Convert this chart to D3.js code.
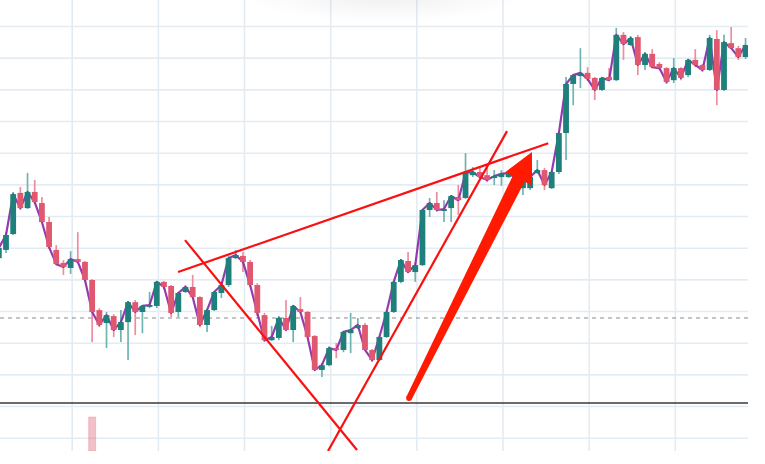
<!DOCTYPE html>
<html><head><meta charset="utf-8">
<script src="https://cdn.jsdelivr.net/npm/d3@7"></script>
<style>html,body{margin:0;padding:0;background:#fff;overflow:hidden}</style>
</head><body>
<script>
// ---- data (candle index -1 .. 103) ----
const firstIndex = -1;
const open = [
 56.7,59.3,64.3,77.3,72.5,77.6,74.1,68.1,59.3,55.2,
 53.6,56.4,55.5,49.8,40.3,36.2,38.4,34.0,36.5,42.8,
 39.7,41.3,41.6,49.2,47.9,39.7,46.0,47.6,44.4,35.6,
 40.3,45.7,48.2,56.7,57.4,55.5,48.2,38.7,30.8,31.5,
 37.8,34.0,40.6,39.7,32.1,21.4,22.9,28.3,27.7,33.0,
 34.6,35.6,27.7,24.5,31.8,39.7,49.2,55.8,52.3,54.5,
 71.9,74.1,71.6,72.5,76.0,75.7,82.9,83.9,82.9,82.0,
 82.3,82.3,82.9,78.8,78.8,83.6,84.5,78.8,83.9,96.2,
 111.7,114.2,115.2,113.6,109.8,113.9,112.9,127.2,124.0,126.5,
 117.7,121.2,118.0,116.7,112.9,116.7,114.5,119.3,117.7,116.1,
 125.9,109.8,124.6,123.0,120.2];
const high = [
 60.8,64.9,77.6,79.2,83.6,81.4,76.0,69.7,60.8,56.1,
 58.9,64.9,55.8,50.1,40.9,39.7,39.0,40.3,43.2,43.5,
 41.9,46.0,49.5,49.5,48.2,46.0,48.2,51.4,44.7,40.6,
 46.3,49.2,57.4,59.3,58.6,56.1,48.8,39.4,35.3,38.4,
 43.5,41.9,44.4,40.0,32.4,23.6,28.9,29.9,33.7,39.4,
 37.8,36.2,28.0,32.1,40.0,49.5,56.4,58.6,55.2,72.2,
 75.7,77.6,75.0,76.6,79.8,89.9,85.5,85.2,86.1,84.5,
 84.5,84.2,85.2,82.3,82.9,87.7,85.2,84.2,96.5,113.9,
 114.8,123.0,117.0,113.9,113.9,116.7,129.4,128.1,126.8,127.2,
 121.8,122.7,118.6,117.0,119.9,117.0,119.6,122.7,118.0,127.2,
 128.7,127.2,129.7,123.7,126.2];
const low = [
 55.5,58.3,64.0,71.9,72.2,73.8,67.8,59.6,54.5,51.4,
 51.7,55.2,49.2,30.2,34.9,28.3,31.8,30.2,24.5,32.4,
 33.0,40.9,40.9,46.9,38.1,38.1,45.7,44.1,34.9,33.4,
 40.0,44.1,47.6,56.4,52.3,47.6,38.4,30.2,30.5,30.8,
 33.7,30.2,39.4,31.5,21.0,19.2,22.6,25.1,27.0,26.7,
 34.3,27.4,23.9,24.2,31.5,39.4,48.8,52.0,49.2,54.2,
 69.7,71.3,68.1,68.1,70.3,75.4,82.3,82.0,80.7,79.8,
 79.5,82.0,79.8,76.6,78.2,83.3,78.2,78.5,83.3,87.7,
 105.0,110.4,112.6,106.6,109.5,112.6,112.6,119.3,123.7,114.5,
 116.1,116.7,116.1,111.7,112.0,112.9,113.9,117.0,115.5,115.8,
 105.0,109.5,122.7,119.3,119.6];
const close = [
 59.9,64.0,76.9,72.5,77.6,74.4,68.1,60.2,54.8,53.9,
 56.4,55.5,49.8,39.7,35.6,38.7,34.0,36.5,42.8,39.7,
 41.6,41.9,49.2,47.6,39.4,45.7,47.6,44.4,35.6,40.3,
 46.0,48.2,56.7,57.7,55.5,48.2,39.4,30.8,31.8,37.8,
 34.0,41.6,39.7,31.8,21.4,22.9,28.3,27.7,33.4,34.0,
 35.6,27.7,24.5,31.8,39.7,49.2,56.1,52.3,54.5,71.9,
 74.1,71.9,72.2,76.3,75.0,83.6,83.9,82.3,81.4,82.6,
 83.3,83.6,82.0,82.0,82.3,84.5,79.8,83.9,96.2,111.7,
 114.5,115.2,113.3,109.8,113.6,112.9,127.2,124.3,126.2,117.7,
 121.2,117.0,116.7,112.3,116.7,113.6,119.3,117.7,116.1,126.2,
 109.8,124.9,123.0,120.2,124.0];
const volIndex = [12];
const volValue = [1];
const priceTicks = [0,10,20,30,40,50,60,70,80,90,100,110,120,130];
const timeTicks = [9.15,21.15,33.15,45.15,57.15,69.15,81.15,93.15];
const dashedPrice = 37.8;
// annotations: [candle index, price]
const wedgeUpper = [[23.96,52.3],[75.53,93.0]];
const lineDown   = [[24.93,62.4],[48.89,-3.9]];
const lineUp     = [[44.85,-4.2],[69.78,96.8]];
const arrowFrom  = [56.13,12.5];
const arrowTo    = [73.26,90.2];

// ---- layout ----
const W = 765, H = 464, plotW = 748, plotH = 451, sepY = 403;
const x = d3.scaleLinear().domain([0,103]).range([6, 6+103*7.18]);
const y = d3.scaleLinear().domain([0,130]).range([437.7, 26]);
const yVol = d3.scaleLinear().domain([0,1]).range([plotH, 417]);

const svg = d3.select("body").append("svg").attr("width",W).attr("height",H)
  .style("display","block").style("background","#fff");
const defs = svg.append("defs");
defs.append("clipPath").attr("id","plot").append("rect").attr("x",0).attr("y",0).attr("width",plotW).attr("height",plotH);
const rg = defs.append("radialGradient").attr("id","shadow");
rg.append("stop").attr("offset","0%").attr("stop-color","#000").attr("stop-opacity",0.06);
rg.append("stop").attr("offset","100%").attr("stop-color","#000").attr("stop-opacity",0);

const g = svg.append("g").attr("clip-path","url(#plot)");

// grid via axes
const gy = g.append("g").call(d3.axisLeft(y).tickValues(priceTicks).tickSize(-plotW).tickFormat(""));
gy.select(".domain").remove();
gy.selectAll("line").attr("stroke","#e4ecf3").attr("stroke-width",1.6);
const gx = g.append("g").attr("transform",`translate(0,${plotH})`)
  .call(d3.axisBottom(x).tickValues(timeTicks).tickSize(-plotH).tickFormat(""));
gx.select(".domain").remove();
gx.selectAll("line").attr("stroke","#e4ecf3").attr("stroke-width",1.6);

// top shadow
svg.append("ellipse").attr("cx",385).attr("cy",-4).attr("rx",140).attr("ry",26).attr("fill","url(#shadow)");

// dashed price line
g.append("line").attr("x1",0).attr("x2",plotW).attr("y1",y(dashedPrice)).attr("y2",y(dashedPrice))
  .attr("stroke","#8a8a8a").attr("stroke-width",1).attr("stroke-dasharray","4,4");
// pane separator
g.append("line").attr("x1",0).attr("x2",plotW).attr("y1",sepY).attr("y2",sepY)
  .attr("stroke","#3a3a3a").attr("stroke-width",1.5);

const UP = "#1f7f7a", DN = "#e0586f", UPW = "#6fb4b0", DNW = "#ec8e9e";
const idx = open.map((d,i)=>i+firstIndex);
const data = idx.map((t,i)=>({t, o:open[i], h:high[i], l:low[i], c:close[i]}));

// volume
g.selectAll("rect.vol").data(volIndex.map((t,i)=>({t, v:volValue[i], d:data[t-firstIndex]})))
  .enter().append("rect").attr("class","vol")
  .attr("x",d=>x(d.t)-3.5).attr("width",7)
  .attr("y",d=>yVol(d.v)).attr("height",d=>yVol(0)-yVol(d.v))
  .attr("fill",d=>d.d.c>=d.d.o?UP:DN).attr("fill-opacity",0.38)
  .attr("stroke",d=>d.d.c>=d.d.o?UP:DN).attr("stroke-opacity",0.25);

// wicks
g.selectAll("line.wick").data(data).enter().append("line").attr("class","wick")
  .attr("x1",d=>x(d.t)).attr("x2",d=>x(d.t)).attr("y1",d=>y(d.h)).attr("y2",d=>y(d.l))
  .attr("stroke",d=>d.c>=d.o?UPW:DNW).attr("stroke-width",1.7);

// close line
g.append("path").datum(data).attr("fill","none").attr("stroke","#8a25a6").attr("stroke-width",2.2)
  .attr("stroke-opacity",0.9).attr("stroke-linejoin","round")
  .attr("d",d3.line().x(d=>x(d.t)).y(d=>y(d.c)));

// bodies
g.selectAll("rect.body").data(data).enter().append("rect").attr("class","body")
  .attr("x",d=>x(d.t)-2.9).attr("width",5.8)
  .attr("y",d=>y(Math.max(d.o,d.c)))
  .attr("height",d=>Math.max(1.5, Math.abs(y(d.o)-y(d.c))))
  .attr("fill",d=>d.c>=d.o?UP:DN);

// trend lines
[wedgeUpper,lineDown,lineUp].forEach(L=>{
  g.append("line").attr("x1",x(L[0][0])).attr("y1",y(L[0][1])).attr("x2",x(L[1][0])).attr("y2",y(L[1][1]))
   .attr("stroke","#fa1010").attr("stroke-width",2.2);
});

// arrow
(function(){
  const x0=x(arrowFrom[0]), y0=y(arrowFrom[1]), x1=x(arrowTo[0]), y1=y(arrowTo[1]);
  const dx=x1-x0, dy=y1-y0, len=Math.hypot(dx,dy), ux=dx/len, uy=dy/len, nx=-uy, ny=ux;
  const headL=30, headW=15, w0=2.9, w1=6.6;
  const bx=x1-ux*headL, by=y1-uy*headL;
  const pts=[
    [x0+nx*w0,y0+ny*w0],[bx+nx*w1,by+ny*w1],[bx+nx*headW,by+ny*headW],[x1,y1],
    [bx-nx*headW,by-ny*headW],[bx-nx*w1,by-ny*w1],[x0-nx*w0,y0-ny*w0]];
  g.append("path").attr("d","M"+pts.map(p=>p.join(",")).join("L")+"Z").attr("fill","#ff1a00");
  g.append("circle").attr("cx",x0).attr("cy",y0).attr("r",w0).attr("fill","#ff1a00");
})();
</script>
</body></html>
